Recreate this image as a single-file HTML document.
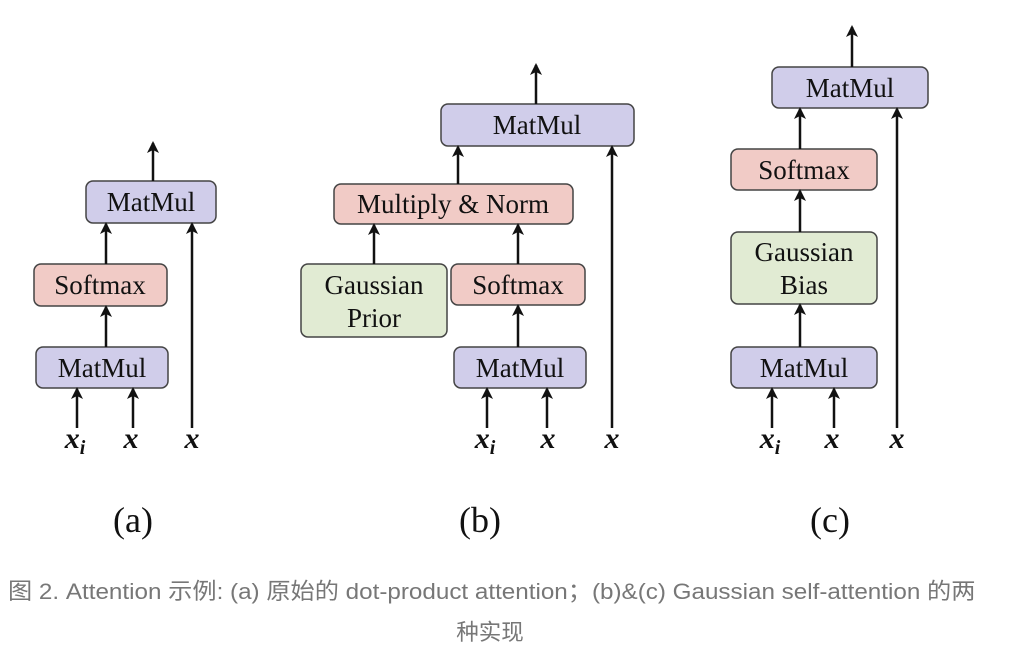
<!DOCTYPE html>
<html><head><meta charset="utf-8"><style>
body{margin:0;background:#fff;width:1017px;height:652px;overflow:hidden;position:relative}
.cap{position:absolute;left:8px;top:574px;font:22.5px "Liberation Sans","Noto Sans CJK SC",sans-serif;color:#777;white-space:nowrap;transform-origin:0 0;transform:scaleX(1.076)}
.cap2{position:absolute;left:0;width:980px;text-align:center;top:615px;font:22.5px "Liberation Sans","Noto Sans CJK SC",sans-serif;color:#777}
</style></head><body>
<svg width="1017" height="570" style="position:absolute;left:0;top:0" font-family="Liberation Serif,serif">
<defs><marker id="a" markerWidth="14" markerHeight="14" refX="10" refY="6" orient="auto" markerUnits="userSpaceOnUse"><path d="M0,0 L12,6 L0,12 L3,6 Z" fill="#111"/></marker></defs>
<g stroke="#444" stroke-width="1.5">
<rect x="86" y="181" width="130" height="42" rx="7" fill="#d0cdea"/>
<rect x="34" y="264" width="133" height="42" rx="7" fill="#f1cbc6"/>
<rect x="36" y="347" width="132" height="41" rx="7" fill="#d0cdea"/>
<rect x="441" y="104" width="193" height="42" rx="7" fill="#d0cdea"/>
<rect x="334" y="184" width="239" height="40" rx="7" fill="#f1cbc6"/>
<rect x="301" y="264" width="146" height="73" rx="7" fill="#e1ebd3"/>
<rect x="451" y="264" width="134" height="41" rx="7" fill="#f1cbc6"/>
<rect x="454" y="347" width="132" height="41" rx="7" fill="#d0cdea"/>
<rect x="772" y="67" width="156" height="41" rx="7" fill="#d0cdea"/>
<rect x="731" y="149" width="146" height="41" rx="7" fill="#f1cbc6"/>
<rect x="731" y="232" width="146" height="72" rx="7" fill="#e1ebd3"/>
<rect x="731" y="347" width="146" height="41" rx="7" fill="#d0cdea"/>
</g>
<g stroke="#111" stroke-width="2.5" marker-end="url(#a)">
<line x1="153" y1="181" x2="153" y2="143"/>
<line x1="106" y1="264" x2="106" y2="224"/>
<line x1="106" y1="347" x2="106" y2="307"/>
<line x1="192" y1="428" x2="192" y2="224"/>
<line x1="77" y1="428" x2="77" y2="389"/>
<line x1="133" y1="428" x2="133" y2="389"/>
<line x1="536" y1="104" x2="536" y2="65"/>
<line x1="458" y1="184" x2="458" y2="147"/>
<line x1="374" y1="264" x2="374" y2="225"/>
<line x1="518" y1="264" x2="518" y2="225"/>
<line x1="518" y1="347" x2="518" y2="306"/>
<line x1="612" y1="428" x2="612" y2="147"/>
<line x1="487" y1="428" x2="487" y2="389"/>
<line x1="547" y1="428" x2="547" y2="389"/>
<line x1="852" y1="67" x2="852" y2="27"/>
<line x1="800" y1="149" x2="800" y2="109"/>
<line x1="800" y1="232" x2="800" y2="191"/>
<line x1="800" y1="347" x2="800" y2="305"/>
<line x1="897" y1="428" x2="897" y2="109"/>
<line x1="772" y1="428" x2="772" y2="389"/>
<line x1="834" y1="428" x2="834" y2="389"/>
</g>
<g font-size="27" fill="#111" text-anchor="middle">
<text x="151" y="211">MatMul</text>
<text x="100" y="294">Softmax</text>
<text x="102" y="377">MatMul</text>
<text x="537" y="134">MatMul</text>
<text x="453" y="213">Multiply &amp; Norm</text>
<text x="374" y="294">Gaussian</text>
<text x="374" y="327">Prior</text>
<text x="518" y="294">Softmax</text>
<text x="520" y="377">MatMul</text>
<text x="850" y="97">MatMul</text>
<text x="804" y="179">Softmax</text>
<text x="804" y="261">Gaussian</text>
<text x="804" y="294">Bias</text>
<text x="804" y="377">MatMul</text>
</g>
<g font-size="30" font-style="italic" font-weight="bold" fill="#111" text-anchor="middle">
<text x="75" y="448">x<tspan font-size="20" dy="6">i</tspan></text>
<text x="131" y="448">x</text><text x="192" y="448">x</text>
<text x="485" y="448">x<tspan font-size="20" dy="6">i</tspan></text>
<text x="548" y="448">x</text><text x="612" y="448">x</text>
<text x="770" y="448">x<tspan font-size="20" dy="6">i</tspan></text>
<text x="832" y="448">x</text><text x="897" y="448">x</text>
</g>
<g font-size="36" fill="#111" text-anchor="middle">
<text x="133" y="532">(a)</text><text x="480" y="532">(b)</text><text x="830" y="532">(c)</text>
</g>
</svg>
<div class="cap">图 2. Attention 示例: (a) 原始的 dot-product attention；(b)&amp;(c) Gaussian self-attention 的两</div>
<div class="cap2">种实现</div>
</body></html>
